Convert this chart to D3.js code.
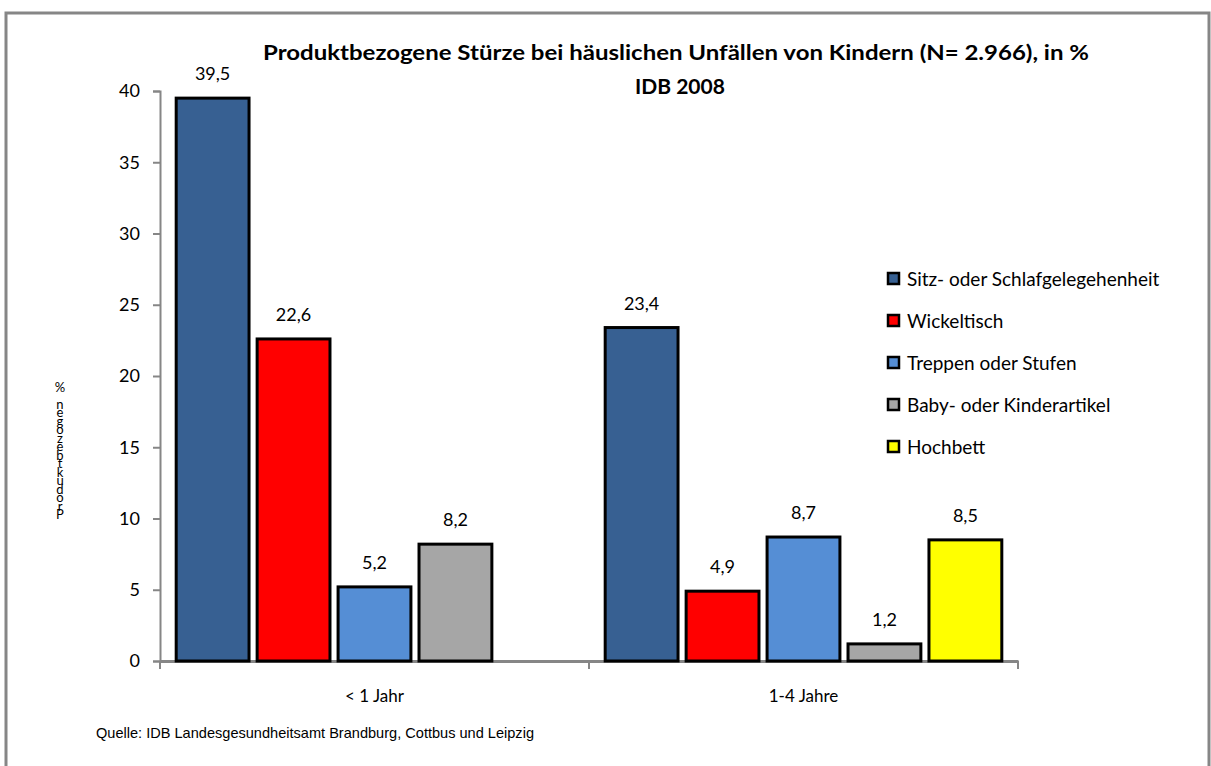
<!DOCTYPE html>
<html>
<head>
<meta charset="utf-8">
<script src="https://cdn.jsdelivr.net/npm/d3@7"></script>
<style>
  body { margin: 0; background: #fff; }
  svg text { font-family: Lato, "Open Sans", sans-serif; fill: #000; }
</style>
</head>
<body>
<div id="chart"></div>
<script>
// Data
const categories = ["< 1 Jahr", "1-4 Jahre"];
const seriesNames = [
  "Sitz- oder Schlafgelegehenheit",
  "Wickeltisch",
  "Treppen oder Stufen",
  "Baby- oder Kinderartikel",
  "Hochbett"
];
const sitzValues = [39.5, 23.4];
const wickelValues = [22.6, 4.9];
const treppenValues = [5.2, 8.7];
const babyValues = [8.2, 1.2];
const hochbettValues = [null, 8.5];
const yTicks = [0, 5, 10, 15, 20, 25, 30, 35, 40];

const seriesColors = ["#376092", "#ff0000", "#558ed5", "#a6a6a6", "#ffff00"];
const seriesValues = [sitzValues, wickelValues, treppenValues, babyValues, hochbettValues];

const W = 1211, H = 766;
const margin = { left: 160, right: 193, top: 91, bottom: 105 };

const svg = d3.select("#chart").append("svg")
  .attr("width", W)
  .attr("height", H);

// outer frame
svg.append("rect")
  .attr("x", 6).attr("y", 13)
  .attr("width", W - 8).attr("height", H)
  .attr("fill", "none")
  .attr("stroke", "#868686")
  .attr("stroke-width", 3);

// Scales
const x0 = d3.scaleBand()
  .domain(categories)
  .range([margin.left, W - margin.right]);

const x1 = d3.scaleBand()
  .domain(seriesNames)
  .range([0, x0.bandwidth()])
  .paddingInner(0.1)
  .paddingOuter(0.2);

const y = d3.scaleLinear()
  .domain([0, 40])
  .range([H - margin.bottom, margin.top]);

// Title
const title = svg.append("text")
  .attr("text-anchor", "middle")
  .style("font-weight", "bold")
  .style("font-size", "21px");
title.append("tspan").attr("x", 676).attr("y", 60)
  .text("Produktbezogene Stürze bei  häuslichen Unfällen von Kindern (N= 2.966), in %")
  .attr("textLength", 826).attr("lengthAdjust", "spacingAndGlyphs");
title.append("tspan").attr("x", 680).attr("y", 94).text("IDB 2008");

// Y axis
const yAxis = svg.append("g")
  .attr("transform", `translate(${margin.left},0)`)
  .call(d3.axisLeft(y).tickValues(yTicks).tickSize(7).tickPadding(13));
yAxis.select(".domain").attr("stroke", "#868686").attr("stroke-width", 2);
yAxis.selectAll(".tick line").attr("stroke", "#868686").attr("stroke-width", 2);
yAxis.selectAll(".tick text").style("font-size", "18px").attr("font-family", "Lato, sans-serif");

// X axis
const xAxis = svg.append("g")
  .attr("transform", `translate(0,${y(0)})`)
  .call(d3.axisBottom(x0).tickSize(0).tickPadding(29));
xAxis.select(".domain").attr("stroke", "#868686").attr("stroke-width", 3);
xAxis.selectAll(".tick text").style("font-size", "17px").attr("font-family", "Lato, sans-serif");

// category separators on x axis
const edges = [x0.range()[0]].concat(categories.map(c => x0(c) + x0.bandwidth()));
svg.append("g").selectAll("line")
  .data(edges)
  .join("line")
  .attr("x1", d => d).attr("x2", d => d)
  .attr("y1", y(0)).attr("y2", y(0) + 8)
  .attr("stroke", "#868686")
  .attr("stroke-width", 2);

// Y axis title: upright letters stacked, reading bottom to top like the original
const yLabel = "Produktbezogen %";
svg.append("text")
  .attr("x", 60)
  .attr("y", 379)
  .attr("writing-mode", "tb")
  .style("writing-mode", "vertical-rl")
  .style("text-orientation", "upright")
  .style("font-size", "13px")
  .attr("textLength", 143)
  .attr("lengthAdjust", "spacing")
  .text(yLabel.split("").reverse().join(""));

// Bars
const rows = [];
categories.forEach((c, ci) => {
  seriesNames.forEach((s, si) => {
    const v = seriesValues[si][ci];
    if (v != null) rows.push({ cat: c, series: s, value: v, color: seriesColors[si] });
  });
});

const barG = svg.append("g");
barG.selectAll("rect")
  .data(rows)
  .join("rect")
  .attr("x", d => x0(d.cat) + x1(d.series))
  .attr("y", d => y(d.value))
  .attr("width", x1.bandwidth())
  .attr("height", d => y(0) - y(d.value))
  .attr("fill", d => d.color)
  .attr("stroke", "#000")
  .attr("stroke-width", 3);

// Value labels
barG.selectAll("text")
  .data(rows)
  .join("text")
  .attr("x", d => x0(d.cat) + x1(d.series) + x1.bandwidth() / 2)
  .attr("y", d => y(d.value) - 18)
  .attr("text-anchor", "middle")
  .style("font-size", "18px")
  .text(d => d3.format(".1f")(d.value).replace(".", ","));

// Legend
const legend = svg.append("g").attr("transform", "translate(887,279)");
const items = legend.selectAll("g")
  .data(seriesNames)
  .join("g")
  .attr("transform", (d, i) => `translate(0,${i * 42})`);
items.append("rect")
  .attr("x", 1).attr("y", -6)
  .attr("width", 11).attr("height", 11)
  .attr("fill", (d, i) => seriesColors[i])
  .attr("stroke", "#000")
  .attr("stroke-width", 2.5);
items.append("text")
  .attr("x", 20).attr("y", 7)
  .style("font-size", "19px")
  .text(d => d);

// Source
svg.append("text")
  .attr("x", 96).attr("y", 738)
  .style("font-family", "'Liberation Sans', Arial, sans-serif")
  .style("font-size", "14.5px")
  .attr("textLength", 438)
  .attr("lengthAdjust", "spacingAndGlyphs")
  .text("Quelle: IDB  Landesgesundheitsamt  Brandburg, Cottbus und Leipzig");
</script>
</body>
</html>
